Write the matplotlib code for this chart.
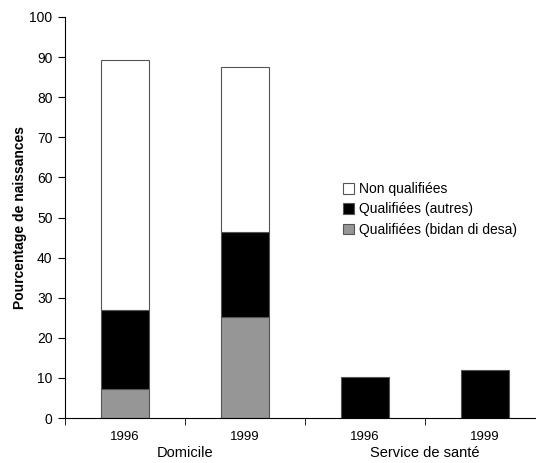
import matplotlib
matplotlib.use("Agg")
import matplotlib.pyplot as plt
import numpy as np

plt.rcParams["font.family"] = ["Liberation Sans", "DejaVu Sans"]

# Data
years = ["1996", "1999", "1996", "1999"]
groups = ["Domicile", "Service de santé"]
bidan = [7.3, 25.3, 0.0, 0.0]
autres = [19.7, 21.1, 10.2, 12.0]
non_qual = [62.3, 41.2, 0.0, 0.0]

series = [
    ("Qualifiées (bidan di desa)", bidan, "#969696"),
    ("Qualifiées (autres)", autres, "#000000"),
    ("Non qualifiées", non_qual, "#ffffff"),
]

fig = plt.figure(figsize=(5.36, 4.63), dpi=100)
ax = fig.add_axes([65 / 536, 45 / 463, 1 - 65 / 536, 401 / 463])

x = np.arange(len(years))
bottom = np.zeros(len(years))
handles = []
for label, vals, col in series:
    vals = np.array(vals)
    mask = vals > 0
    h = ax.bar(x[mask], vals[mask], 0.4, bottom=bottom[mask], color=col,
               edgecolor="#555555", linewidth=0.8, label=label)
    handles.append(h)
    bottom += vals

ax.set_ylim(0, 100)
ax.set_xlim(-0.5, 3.425)
ax.set_yticks(range(0, 101, 10))
ax.tick_params(axis="y", direction="out", length=5, labelsize=10, pad=4)
ax.set_xticks(x, years)
ax.tick_params(axis="x", which="major", length=0, labelsize=9.5, pad=9)
ax.set_xticks([-0.5, 0.5, 1.5, 2.5], minor=True)
ax.tick_params(axis="x", which="minor", direction="out", length=5)
for s in ["top", "right"]:
    ax.spines[s].set_visible(False)

ax.set_ylabel("Pourcentage de naissances", fontsize=10, fontweight="bold", labelpad=2)

trans = ax.get_xaxis_transform()
for i, g in enumerate(groups):
    ax.text(2 * i + 0.5, -0.088, g, transform=trans, ha="center", va="center", fontsize=10.5)

ax.legend(handles[::-1], [s[0] for s in series][::-1], loc="upper left",
          bbox_to_anchor=(0.579, 0.602), frameon=False, fontsize=10,
          handlelength=0.8, handleheight=0.8, handletextpad=0.3,
          labelspacing=0.45, borderaxespad=0)

fig.savefig("out.png", dpi=100)
